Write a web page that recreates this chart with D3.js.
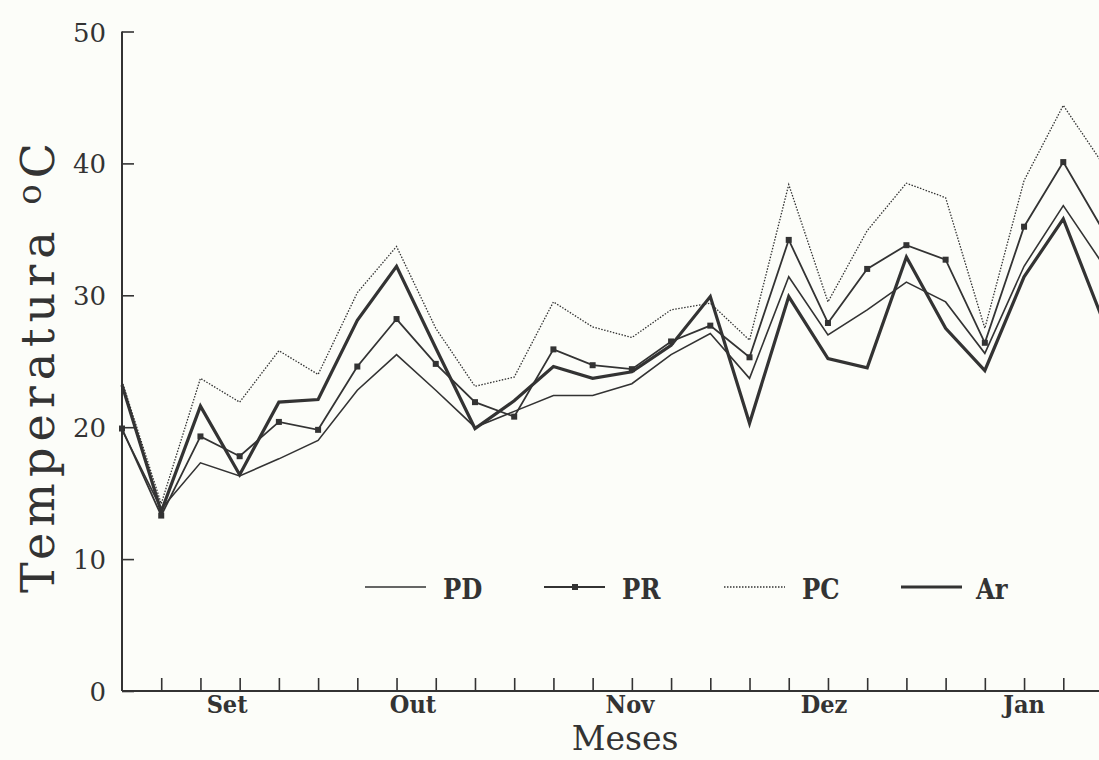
<!DOCTYPE html>
<html>
<head>
<meta charset="utf-8">
<script src="https://cdn.jsdelivr.net/npm/d3@7"></script>
<style>
    body { margin: 0; background: #fcfdf9; }
    svg { display: block; background: #fcfdf9; }
    .tick-label { font-family: "DejaVu Serif", serif; font-size: 26px; fill: #333; }
    .month { font-family: "DejaVu Serif", serif; font-stretch: condensed; font-weight: bold; font-size: 25px; fill: #333; }
    .legend-text { font-family: "DejaVu Serif", serif; font-stretch: condensed; font-weight: bold; font-size: 27px; fill: #333; }
    .label { font-family: "DejaVu Serif", serif; font-size: 33px; fill: #333; }
    .ylabel { font-family: "DejaVu Serif", serif; font-size: 46px; fill: #333; }
</style>
</head>
<body>
<svg width="1099" height="760"></svg>
<script>
// sampling points (index along the season), every tick on the x axis
var PD = [19.8, 13.8, 17.3, 16.3, 17.6, 19.0, 22.8, 25.5, 22.8, 20.0, 21.2, 22.4, 22.4,
          23.3, 25.5, 27.1, 23.7, 31.4, 27.0, 28.9, 31.0, 29.5, 25.6, 32.2, 36.8, 32.4];
var PR = [19.9, 13.3, 19.3, 17.8, 20.4, 19.8, 24.6, 28.2, 24.8, 21.9, 20.8, 25.9, 24.7,
          24.4, 26.5, 27.7, 25.3, 34.2, 27.9, 32.0, 33.8, 32.7, 26.4, 35.2, 40.1, 35.0];
var PC = [23.5, 14.2, 23.7, 21.9, 25.8, 24.0, 30.2, 33.7, 27.5, 23.1, 23.8, 29.5, 27.6,
          26.8, 28.9, 29.4, 26.6, 38.4, 29.5, 34.9, 38.5, 37.4, 27.5, 38.7, 44.4, 40.0];
var Ar = [23.2, 13.6, 21.6, 16.4, 21.9, 22.1, 28.1, 32.2, 26.0, 19.9, 22.0, 24.6, 23.7,
          24.2, 26.2, 29.9, 20.3, 29.9, 25.2, 24.5, 32.9, 27.5, 24.3, 31.4, 35.8, 28.2];

var months = ["Set", "Out", "Nov", "Dez", "Jan"];
var monthPos = [2.68, 7.42, 12.95, 17.9, 23.0];
var yTicks = [0, 10, 20, 30, 40, 50];
var legendNames = ["PD", "PR", "PC", "Ar"];

var svg = d3.select('svg');

// **** scales ****
var xScale = d3.scaleLinear().domain([0, 25]).range([122, 1102.5]);
var yScale = d3.scaleLinear().domain([0, 50]).range([691, 31.5]);

// **** axes ****
var xAxis = svg.append('g').attr('class', 'x axis')
    .attr('transform', 'translate(0,691)')
    .call(d3.axisTop(xScale).tickValues(d3.range(1, 26)).tickSize(13).tickFormat(''));
var yAxis = svg.append('g').attr('class', 'y axis')
    .attr('transform', 'translate(122,0)')
    .call(d3.axisRight(yScale).tickValues(yTicks).tickSize(12).tickFormat(''));

svg.selectAll('.axis path').attr('stroke', '#333').attr('stroke-width', 2);
svg.selectAll('.axis line').attr('stroke', '#333').attr('stroke-width', 1.6);
// axis lines go right to the edge
xAxis.select('path').attr('d', 'M122,0H1099');
yAxis.select('path').attr('d', 'M0,' + yScale(50) + 'V' + yScale(0));

svg.selectAll('.ylab')
    .data(yTicks)
    .enter()
    .append('text')
    .attr('class', 'tick-label')
    .attr('x', 106)
    .attr('y', function(d){ return yScale(d) + 10; })
    .attr('text-anchor', 'end')
    .text(function(d){ return d; });

svg.selectAll('.month')
    .data(months)
    .enter()
    .append('text')
    .attr('class', 'month')
    .attr('x', function(d, i){ return xScale(monthPos[i]); })
    .attr('y', 713)
    .attr('text-anchor', 'middle')
    .text(function(d){ return d; });

svg.append('text')
    .attr('class', 'label')
    .attr('text-anchor', 'middle')
    .attr('transform', 'translate(625,750)')
    .text('Meses');

var ytitle = svg.append('text')
    .attr('class', 'ylabel')
    .attr('text-anchor', 'middle')
    .attr('textLength', 450)
    .attr('lengthAdjust', 'spacing')
    .attr('transform', 'translate(54,368) rotate(-90)');
ytitle.append('tspan').text('Temperatura ');
ytitle.append('tspan').attr('dy', -13).style('font-size', '34px').text('o');
ytitle.append('tspan').attr('dy', 13).text('C');

// **** lines ****
var line = d3.line()
    .x(function(d, i){ return xScale(i); })
    .y(function(d){ return yScale(d); });

var styles = {
    PD: { w: 1.6, dash: null },
    PR: { w: 1.8, dash: null },
    PC: { w: 1.3, dash: '1.5,1.5' },
    Ar: { w: 3.2, dash: null }
};
var series = { PD: PD, PR: PR, PC: PC, Ar: Ar };

['PC', 'PD', 'PR', 'Ar'].forEach(function(k){
    svg.append('path')
        .datum(series[k])
        .attr('fill', 'none')
        .attr('stroke', '#333')
        .attr('stroke-width', styles[k].w)
        .attr('stroke-dasharray', styles[k].dash)
        .attr('stroke-linejoin', 'miter')
        .attr('d', line);
});

svg.selectAll('.mark')
    .data(PR)
    .enter()
    .append('rect')
    .attr('class', 'mark')
    .attr('x', function(d, i){ return xScale(i) - 3; })
    .attr('y', function(d){ return yScale(d) - 3; })
    .attr('width', 6)
    .attr('height', 6)
    .attr('fill', '#333');

// **** legend ****
var legendX = [365, 544, 724, 901];
var legendY = 587;
var lg = svg.selectAll('.legend')
    .data(legendNames)
    .enter()
    .append('g')
    .attr('class', 'legend')
    .attr('transform', function(d, i){ return 'translate(' + legendX[i] + ',' + legendY + ')'; });

lg.append('line')
    .attr('x1', 0).attr('x2', 61)
    .attr('y1', 0).attr('y2', 0)
    .attr('stroke', '#333')
    .attr('stroke-width', function(d){ return styles[d].w; })
    .attr('stroke-dasharray', function(d){ return styles[d].dash; });

lg.filter(function(d){ return d == 'PR'; })
    .append('rect')
    .attr('x', 28).attr('y', -3)
    .attr('width', 6).attr('height', 6)
    .attr('fill', '#333');

lg.append('text')
    .attr('class', 'legend-text')
    .attr('x', function(d){ return d == 'Ar' ? 75 : 78; })
    .attr('y', 12)
    .text(function(d){ return d; });
</script>
</body>
</html>
